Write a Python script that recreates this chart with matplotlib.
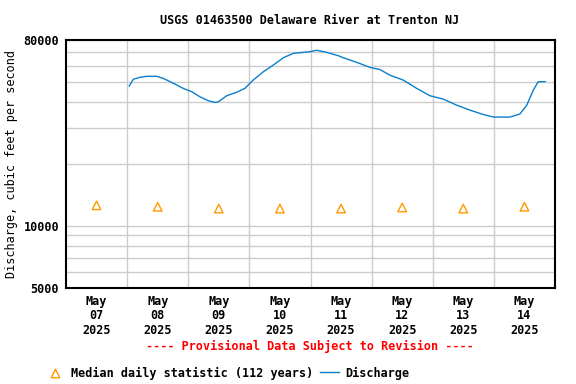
"""USGS 01463500 Delaware River at Trenton NJ - discharge vs median daily statistic."""
import numpy as np
import pandas as pd
import matplotlib

matplotlib.use("Agg")
import matplotlib.pyplot as plt  # noqa: E402
from matplotlib.ticker import FixedLocator, NullFormatter  # noqa: E402

TITLE = "USGS 01463500 Delaware River at Trenton NJ"
YLABEL = "Discharge, cubic feet per second"
NOTE = "---- Provisional Data Subject to Revision ----"

# discharge readings (cfs)
flow_times = [
    "2025-05-08 00:50", "2025-05-08 02:25", "2025-05-08 05:00", "2025-05-08 07:40",
    "2025-05-08 11:40", "2025-05-08 14:10", "2025-05-08 18:10", "2025-05-08 22:00",
    "2025-05-09 01:20", "2025-05-09 04:35", "2025-05-09 07:50", "2025-05-09 10:30",
    "2025-05-09 11:50", "2025-05-09 15:05", "2025-05-09 19:00", "2025-05-09 22:15",
    "2025-05-10 01:30", "2025-05-10 05:30", "2025-05-10 09:25", "2025-05-10 13:20",
    "2025-05-10 17:15", "2025-05-10 23:50", "2025-05-11 02:25", "2025-05-11 06:20",
    "2025-05-11 10:55", "2025-05-11 12:55", "2025-05-11 18:10", "2025-05-11 23:20",
    "2025-05-12 03:15", "2025-05-12 07:10", "2025-05-12 12:25", "2025-05-12 17:40",
    "2025-05-12 22:55", "2025-05-13 04:10", "2025-05-13 09:25", "2025-05-13 14:40",
    "2025-05-13 19:50", "2025-05-13 23:50", "2025-05-14 06:20", "2025-05-14 10:15",
    "2025-05-14 12:55", "2025-05-14 15:30", "2025-05-14 17:25", "2025-05-14 20:05",
]
flow_cfs = [
    47800, 51600, 52700, 53300, 53300, 52100, 49300, 46600,
    44900, 42400, 40600, 39800, 40100, 42900, 44600, 46600,
    51100, 56100, 60500, 65600, 68900, 70200, 71300, 69700,
    67100, 65600, 62300, 58900, 57500, 54000, 51100, 46600,
    42900, 41300, 38600, 36500, 34800, 33800, 33800, 35000,
    38600, 45700, 50200, 50200,
]

# median daily statistic (112 years), plotted at noon
median_days = ["2025-05-07", "2025-05-08", "2025-05-09", "2025-05-10",
               "2025-05-11", "2025-05-12", "2025-05-13", "2025-05-14"]
median_cfs = [12600, 12400, 12150, 12150, 12150, 12300, 12150, 12400]

y_ticks = [5000, 10000, 80000]
y_minor = [6000, 7000, 8000, 9000, 20000, 30000, 40000, 50000, 60000, 70000]

plt.rcParams["font.family"] = "DejaVu Sans Mono"
plt.rcParams["font.weight"] = "bold"
plt.rcParams["font.size"] = 8.5

fig = plt.figure(figsize=(5.76, 3.84), dpi=100)
ax = fig.add_axes([66 / 576, 1 - 288 / 384, (555 - 66) / 576, (288 - 40) / 384])

t = pd.to_datetime(flow_times)
med_t = pd.to_datetime(median_days) + pd.Timedelta(hours=12)

ax.plot(t, flow_cfs, color="#0a7ecb", lw=1.0, label="Discharge")
ax.scatter(med_t, median_cfs, marker="^", s=38, facecolors="none",
           edgecolors="#ff9900", linewidths=1.0,
           label="Median daily statistic (112 years)")

ax.set_yscale("log")
ax.set_ylim(5000, 80000)
ax.yaxis.set_major_locator(FixedLocator(y_ticks))
ax.yaxis.set_major_formatter(plt.FuncFormatter(lambda v, _: f"{int(v)}"))
ax.yaxis.set_minor_locator(FixedLocator(y_minor))
ax.yaxis.set_minor_formatter(NullFormatter())

start = pd.Timestamp("2025-05-07")
ax.set_xlim(start, start + pd.Timedelta(days=8))
days = pd.date_range(start, periods=9, freq="D")
ax.set_xticks(days[1:-1], minor=True)
ax.set_xticks(med_t)
ax.set_xticklabels([d.strftime("%b\n%d\n%Y") for d in med_t], linespacing=1.15)

ax.grid(True, which="minor", color="#cccccc", lw=1.0)
ax.grid(True, which="major", axis="y", color="#cccccc", lw=1.0)
ax.tick_params(which="both", length=0, pad=5)
for s in ax.spines.values():
    s.set_linewidth(1.5)

ax.set_ylabel(YLABEL, labelpad=4)
fig.text(310 / 576, 1 - 20 / 384, TITLE, ha="center", va="center")
fig.text(310 / 576, 1 - 346 / 384, NOTE, ha="center", va="center", color="red")

h, l = ax.get_legend_handles_labels()
fig.legend(h[::-1], l[::-1], loc="center left", bbox_to_anchor=(46 / 576, 1 - 373 / 384),
           ncol=2, frameon=False, handlelength=1.6, handletextpad=0.5,
           columnspacing=0.6, borderpad=0, borderaxespad=0)

fig.savefig("out.png", dpi=100)
